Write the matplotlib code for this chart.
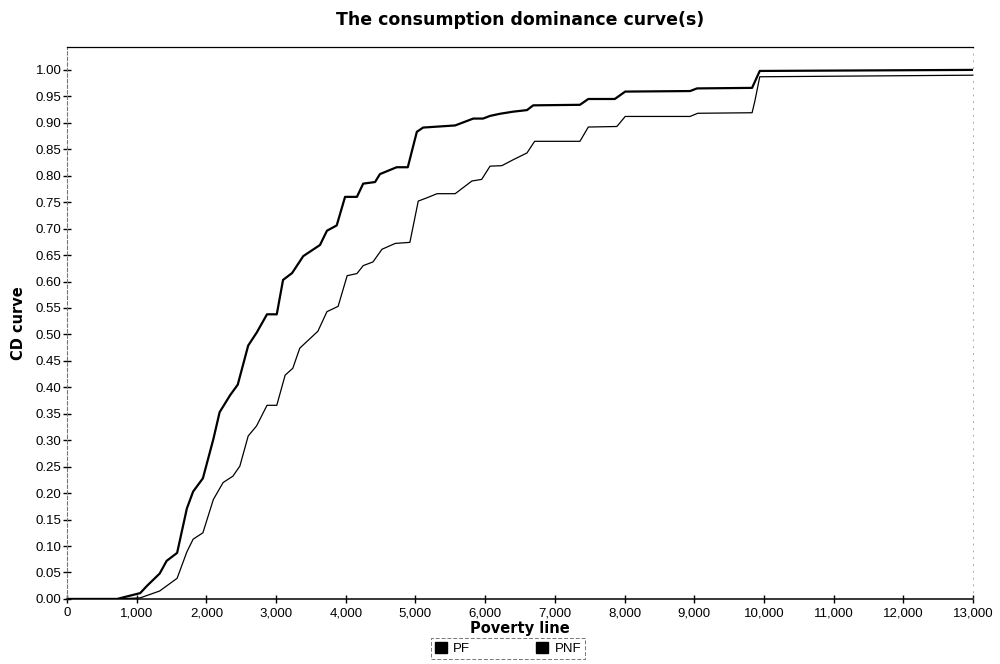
import matplotlib.pyplot as plt
from matplotlib.patches import Patch
from matplotlib.ticker import FuncFormatter

# poverty line values and CD curve values
pf_x = [0, 720, 1050, 1150, 1330, 1430, 1580, 1720, 1810, 1950, 2100, 2190, 2340,
        2450, 2600, 2720, 2870, 3010, 3100, 3230, 3390, 3630, 3730, 3870, 3990,
        4160, 4250, 4420, 4490, 4730, 4890, 5020, 5110, 5570, 5830, 5970, 6070,
        6210, 6400, 6600, 6690, 7360, 7480, 7860, 8010, 8940, 9040, 9830, 9940, 13000]
pf_y = [0, 0, 0.011, 0.025, 0.048, 0.072, 0.087, 0.171, 0.203, 0.228, 0.302, 0.353, 0.385,
        0.405, 0.479, 0.503, 0.538, 0.538, 0.603, 0.616, 0.648, 0.669, 0.696, 0.706, 0.760,
        0.760, 0.785, 0.788, 0.803, 0.816, 0.816, 0.883, 0.891, 0.895, 0.908, 0.908, 0.913,
        0.917, 0.921, 0.924, 0.933, 0.934, 0.945, 0.945, 0.959, 0.960, 0.965, 0.966, 0.998, 1.0]

pnf_x = [0, 720, 1050, 1330, 1580, 1720, 1810, 1950, 2100, 2240, 2380, 2480, 2600,
         2720, 2870, 3010, 3130, 3240, 3340, 3600, 3730, 3890, 4020, 4160, 4250,
         4390, 4520, 4710, 4920, 5040, 5160, 5310, 5570, 5810, 5950, 6070, 6240,
         6400, 6600, 6710, 7360, 7480, 7890, 8010, 8940, 9050, 9830, 9870, 9940, 13000]
pnf_y = [0, 0, 0.002, 0.015, 0.039, 0.089, 0.113, 0.125, 0.188, 0.220, 0.232, 0.251, 0.308,
         0.327, 0.366, 0.366, 0.423, 0.436, 0.474, 0.506, 0.543, 0.553, 0.611, 0.615, 0.630,
         0.637, 0.661, 0.672, 0.674, 0.752, 0.758, 0.766, 0.766, 0.790, 0.793, 0.818, 0.819,
         0.830, 0.843, 0.865, 0.865, 0.892, 0.893, 0.912, 0.912, 0.918, 0.919, 0.941, 0.987, 0.99]

x_ticks = list(range(0, 13001, 1000))
y_ticks = [i * 0.05 for i in range(21)]

fig = plt.figure(figsize=(10, 6.64), dpi=100)
ax = fig.add_axes([0.067, 0.098, 0.906, 0.831])

ax.plot(pf_x, pf_y, color='black', linewidth=1.6)
ax.plot(pnf_x, pnf_y, color='black', linewidth=0.9)

ax.set_xlim(0, 13000)
ax.set_ylim(0, 1.043)
ax.set_xticks(x_ticks)
ax.set_yticks(y_ticks)
ax.xaxis.set_major_formatter(FuncFormatter(lambda v, p: f"{int(v):,}"))
ax.yaxis.set_major_formatter(FuncFormatter(lambda v, p: f"{v:.2f}"))
ax.tick_params(direction='inout', length=6, width=1, labelsize=9.5)
ax.tick_params(axis='x', pad=3)
ax.tick_params(axis='y', pad=1)
for lab in ax.get_xticklabels() + ax.get_yticklabels():
    lab.set_fontfamily('Liberation Sans')

# spines like the original: solid top/bottom, faint dotted sides
ax.spines['top'].set_linewidth(0.9)
ax.spines['bottom'].set_linewidth(1.1)
ax.spines['left'].set_linestyle((0, (3, 2)))
ax.spines['left'].set_color('#777777')
ax.spines['left'].set_linewidth(0.8)
ax.spines['right'].set_linestyle((0, (1, 6)))
ax.spines['right'].set_color('#aaaaaa')
ax.spines['right'].set_linewidth(0.7)

ax.set_title('The consumption dominance curve(s)', fontsize=12.5, fontweight='bold', pad=16)
ax.set_xlabel('Poverty line', fontsize=10.5, fontweight='bold', labelpad=1)
ax.set_ylabel('CD curve', fontsize=10.5, fontweight='bold', labelpad=7)

handles = [Patch(facecolor='black', edgecolor='black', label='PF'),
           Patch(facecolor='black', edgecolor='black', label='PNF')]
leg = fig.legend(handles=handles, loc='upper center', bbox_to_anchor=(0.508, 0.043),
                 ncol=2, frameon=True, fancybox=False,
                 handlelength=0.9, handleheight=0.9, handletextpad=0.5,
                 columnspacing=5.0, borderpad=0.3, borderaxespad=0.2,
                 prop={'family': 'Liberation Sans', 'size': 9.5})
leg.get_frame().set_edgecolor('#555555')
leg.get_frame().set_linewidth(0.7)
leg.get_frame().set_linestyle((0, (4, 2)))

fig.savefig('out.png', dpi=100)
